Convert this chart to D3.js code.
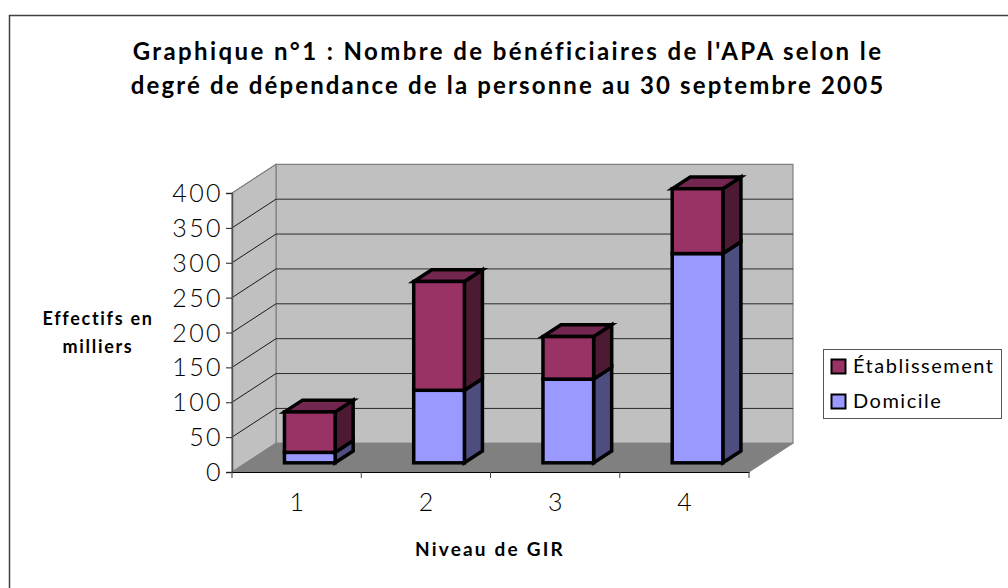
<!DOCTYPE html>
<html>
<head>
<meta charset="utf-8">
<script src="https://cdnjs.cloudflare.com/ajax/libs/d3/7.8.5/d3.min.js"></script>
<style>
html, body { margin: 0; padding: 0; background: #fff; }
svg { display: block; }
text { font-family: Lato, "Open Sans", sans-serif; fill: #000; }
.title, .axis-title { font-weight: 700; }
</style>
</head>
<body>
<svg width="1008" height="588"></svg>
<script>
const categories = ["1", "2", "3", "4"];
const domicile = [15, 104, 120, 300];
const etablissement = [58, 156, 61, 93];
const yTicks = [0, 50, 100, 150, 200, 250, 300, 350, 400];
const seriesNames = ["Établissement", "Domicile"];
const titleLines = ["Graphique n°1 : Nombre de bénéficiaires de l'APA selon le",
    "degré de dépendance de la personne au 30 septembre 2005"];
const yTitleLines = ["Effectifs en", "milliers"];
const xTitle = "Niveau de GIR";

const svg = d3.select("svg");

// cadre : seulement haut et gauche
svg.append("path")
    .attr("d", "M9.5,588V15.5H1008")
    .attr("fill", "none")
    .attr("stroke", "#404040")
    .attr("stroke-width", 1.5);

const x = d3.scaleBand().domain(categories).range([232, 749]);
const y = d3.scaleLinear().domain([0, 400]).range([472, 193]);

// profondeur de la perspective
const depthX = 44, depthY = -28.7;
const proj = (px, py, t) => [px + depthX * t, py + depthY * t];
const poly = pts => "M" + pts.map(p => p.join(",")).join("L") + "Z";

const g = svg.append("g");

// mur du fond
g.append("path")
    .attr("d", poly([proj(232, y(0), 1), proj(749, y(0), 1), proj(749, y(400), 1), proj(232, y(400), 1)]))
    .attr("fill", "#c0c0c0").attr("stroke", "#808080").attr("stroke-width", 1.2);
// mur de gauche
g.append("path")
    .attr("d", poly([proj(232, y(0), 0), proj(232, y(0), 1), proj(232, y(400), 1), proj(232, y(400), 0)]))
    .attr("fill", "#c0c0c0").attr("stroke", "#808080").attr("stroke-width", 1.2);
// sol
g.append("path")
    .attr("d", poly([proj(232, y(0), 0), proj(749, y(0), 0), proj(749, y(0), 1), proj(232, y(0), 1)]))
    .attr("fill", "#808080").attr("stroke", "#808080").attr("stroke-width", 1);

// quadrillage
const grid = yTicks.filter(d => d > 0 && d < 400);
g.selectAll(".grid-back").data(grid).join("line")
    .attr("x1", proj(232, 0, 1)[0]).attr("x2", proj(749, 0, 1)[0])
    .attr("y1", d => proj(0, y(d), 1)[1]).attr("y2", d => proj(0, y(d), 1)[1])
    .attr("stroke", "#2a2a2a").attr("stroke-width", 1);
g.selectAll(".grid-side").data(yTicks.filter(d => d > 0)).join("line")
    .attr("x1", 232).attr("x2", proj(232, 0, 1)[0])
    .attr("y1", d => y(d)).attr("y2", d => proj(0, y(d), 1)[1])
    .attr("stroke", d => d === 400 ? "#808080" : "#1a1a1a").attr("stroke-width", 1);

// axes
const yAxis = d3.axisLeft(y).tickValues(yTicks).tickSize(6).tickPadding(3);
const yG = svg.append("g").attr("transform", "translate(232,0)").call(yAxis);
yG.select(".domain").attr("stroke", "#505050").attr("stroke-width", 1.5);
yG.selectAll(".tick line").attr("stroke", "#222");
yG.selectAll("text").style("font-size", "25px").style("font-weight", 300)
    .style("letter-spacing", "2.4px").attr("dy", "0.34em");

const xAxis = d3.axisBottom(x).tickSize(0).tickPadding(21);
const xG = svg.append("g").attr("transform", "translate(0,472)").call(xAxis);
xG.select(".domain").attr("stroke", "#000").attr("stroke-width", 1.2);
xG.selectAll("text").style("font-size", "25px").style("font-weight", 300);
xG.selectAll(".edge").data(categories.concat(["end"])).join("line")
    .attr("x1", (d, i) => 232 + i * x.step()).attr("x2", (d, i) => 232 + i * x.step())
    .attr("y1", 0).attr("y2", 6)
    .attr("stroke", "#444");

// barres empilées
const barRatio = 0.392, tFront = 0.32, tBack = 0.73;
const yBar = v => proj(0, y(v), tFront)[1];
const barX = c => x(c) + (x.bandwidth() * (1 - barRatio)) / 2 + depthX * tFront - 0.9;
const barW = x.bandwidth() * barRatio;
const sideDx = depthX * (tBack - tFront), sideDy = depthY * (tBack - tFront);

function drawSegment(c, v0, v1, front, side, top) {
    const bar = svg.append("g").attr("stroke", "#000").attr("stroke-width", 3.5);
    const x0 = barX(c), x1 = x0 + barW, yLow = yBar(v0), yHigh = yBar(v1);
    bar.append("path").attr("fill", side).attr("d", poly([[x1, yLow], [x1 + sideDx, yLow + sideDy], [x1 + sideDx, yHigh + sideDy], [x1, yHigh]]));
    if (top) {
        bar.append("path").attr("fill", top).attr("d", poly([[x0, yHigh], [x1, yHigh], [x1 + sideDx, yHigh + sideDy], [x0 + sideDx, yHigh + sideDy]]));
    }
    bar.append("rect").attr("x", x0).attr("y", yHigh).attr("width", barW).attr("height", yLow - yHigh).attr("fill", front);
}

categories.forEach((c, i) => {
    drawSegment(c, 0, domicile[i], "#9999ff", "#4d4d80", null);
    drawSegment(c, domicile[i], domicile[i] + etablissement[i], "#993366", "#4d1a33", "#732650");
});

// titres
svg.selectAll(".title").data(titleLines).join("text")
    .attr("class", "title")
    .attr("x", 508).attr("y", (d, i) => 60 + i * 34)
    .attr("text-anchor", "middle")
    .style("font-size", "24px").style("letter-spacing", (d, i) => i === 0 ? "2.4px" : "2.15px")
    .text(d => d);

svg.selectAll(".y-title").data(yTitleLines).join("text")
    .attr("class", "axis-title y-title")
    .attr("x", 98).attr("y", (d, i) => 325 + i * 28)
    .attr("text-anchor", "middle")
    .style("font-size", "18px").style("letter-spacing", "1.7px")
    .text(d => d);

svg.append("text").attr("class", "axis-title")
    .attr("x", 490).attr("y", 556)
    .attr("text-anchor", "middle")
    .style("font-size", "19px").style("letter-spacing", "2.2px")
    .text(xTitle);

// légende
svg.append("rect").attr("x", 823.5).attr("y", 349.5).attr("width", 178).attr("height", 69)
    .attr("fill", "#fff").attr("stroke", "#555").attr("stroke-width", 1);
const legendColors = ["#993366", "#9999ff"];
seriesNames.forEach((name, i) => {
    svg.append("rect").attr("x", 831.5).attr("y", 359.5 + i * 35).attr("width", 14).attr("height", 14)
        .attr("fill", legendColors[i]).attr("stroke", "#000").attr("stroke-width", 2);
    svg.append("text").attr("x", 853).attr("y", 373 + i * 35)
        .style("font-size", "20px").style("letter-spacing", "1.5px")
        .text(name);
});
</script>
</body>
</html>
